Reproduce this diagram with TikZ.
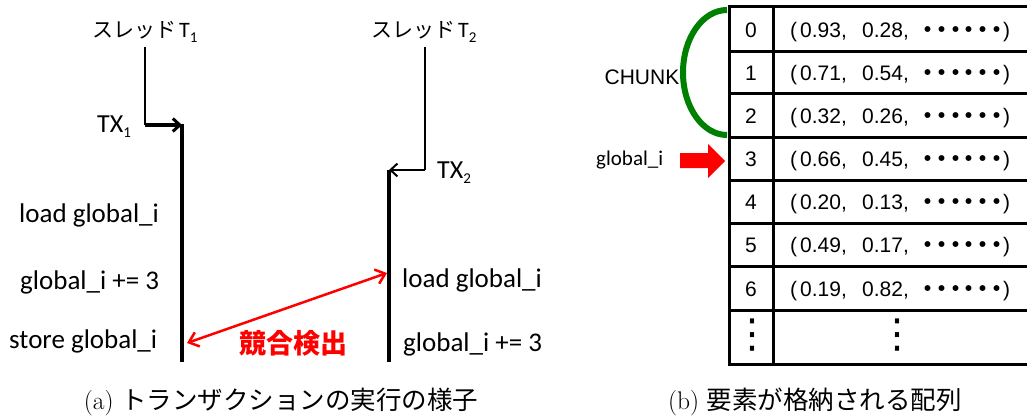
\documentclass[tikz,border=0pt]{standalone}
\usepackage{fontspec}
\newfontfamily\cjk{Noto Sans CJK JP}
\newfontfamily\carl{Carlito}
\newfontfamily\ari{Liberation Sans}
\newfontfamily\dejavu{DejaVu Sans}
\usetikzlibrary{arrows.meta}
\definecolor{chunkgreen}{RGB}{0,128,0}
\definecolor{alarm}{RGB}{255,0,0}
\newcommand\fsz[1]{\fontsize{#1}{#1}\selectfont}
\newcommand\lowsub[1]{\raisebox{-5pt}{\fsz{15}#1}}
\newcommand\mydot{\makebox[13.9pt]{\cjk\bfseries ・}}
\begin{document}
\begin{tikzpicture}[x=1pt,y=-1pt,
  txt/.style={inner sep=0pt, anchor=base west},
  code/.style={txt, font=\carl\fsz{27}},
  titletext/.style={txt, font=\fsz{21}},
  thinline/.style={line width=1.3pt},
  life/.style={line width=3.5pt},
  barb/.style={-{Straight Barb[length=7pt,width=13pt]}},
  grid/.style={line width=3pt},
  cell/.style={font=\ari\fsz{21}, inner sep=0pt},
  vdots/.style={font=\dejavu\fsz{40}, inner sep=0pt},
  captext/.style={font=\fsz{25.5}, inner sep=0pt}]
\useasboundingbox (0,0) rectangle (1027,417);

% ---------- (a) ----------
\node[titletext] (t1) at (92,38) {{\cjk スレッド}\hspace{3pt}{\carl\fsz{22}T\lowsub{1}}};
\node[titletext] (t2) at (371,38) {{\cjk スレッド}\hspace{3pt}{\carl\fsz{22}T\lowsub{2}}};

\coordinate (s1) at (145,47);
\coordinate (c1) at (145,125);
\coordinate (l1top) at (182,124);
\coordinate (l1bot) at (182,362);
\coordinate (s2) at (425,47);
\coordinate (c2) at (425,170);
\coordinate (l2top) at (389,170);
\coordinate (l2bot) at (389,362);

\draw[thinline] (s1) -- (c1);
\draw[line width=3pt, barb] (c1) -- (l1top |- c1);
\draw[life] (l1top) -- (l1bot);
\draw[thinline] (s2) -- (c2);
\draw[line width=2pt, barb] (c2) -- (l2top);
\draw[life] (l2top) -- (l2bot);

\node[txt, font=\carl\fsz{26}] (tx1) at (97,132) {TX\lowsub{1}};
\node[txt, font=\carl\fsz{26}] (tx2) at (437,178) {TX\lowsub{2}};

\node[code] (la) at (19,222) {load global\_i};
\node[code] (lb) at (20,289) {global\_i += 3};
\node[code] (lc) at (9,348) {store global\_i};
\node[code] (ra) at (402,287) {load global\_i};
\node[code] (rb) at (403,351) {global\_i += 3};

\coordinate (k1) at (187,343);
\coordinate (k2) at (387,273);
\draw[alarm, line width=2.5pt, {Straight Barb[length=9pt,width=15pt]}-{Straight Barb[length=9pt,width=15pt]}] (k1) -- (k2);
\node[font=\cjk\bfseries\fsz{27}, text=alarm, inner sep=0pt] (conf) at (293,343) {競合検出};

\node[captext] (capa) at (281,402) {(a) {\cjk トランザクションの実行の様子}};

% ---------- (b) ----------
\foreach \y in {7,52,94,137,180,223,266,310,364}
  \draw[grid] (727.5,\y) -- (1028,\y);
\draw[grid] (729,5.5) -- (729,365.5);
\draw[grid] (773,5.5) -- (773,365.5);

\foreach \i/\y/\a/\b in {0/29.5/0.93/0.28, 1/73/0.71/0.54, 2/115.5/0.32/0.26,
  3/158.5/0.66/0.45, 4/201.5/0.20/0.13, 5/244.5/0.49/0.17, 6/288/0.19/0.82} {
  \node[cell, anchor=base] (idx\i) at (751,{\y+8}) {\i};
  \node[cell, anchor=base west] (val\i) at (790,{\y+8})
    {(\hspace{3pt}\a,\hspace{15.3pt}\b,\hspace{11.85pt}\mydot\mydot\mydot\mydot\mydot\mydot\hspace{-1pt})};
}
\node[vdots] (vd1) at (752.5,335) {⋮};
\node[vdots] (vd2) at (897,335) {⋮};

\draw[chunkgreen, line width=6pt] (727,10) arc[start angle=270, end angle=90, x radius=44, y radius=62.5];
\node[font=\ari\fsz{21}, inner sep=0pt] (chunk) at (642,77) {CHUNK};

\node[txt, font=\carl\fsz{21}] (gi) at (596,165) {global\_i};
\fill[alarm] (680,153) -- (708,153) -- (708,144) -- (725,161) -- (708,178) -- (708,168) -- (680,168) -- cycle;

\node[captext] (capb) at (815,402) {(b) {\cjk 要素が格納される配列}};
\end{tikzpicture}
\end{document}
